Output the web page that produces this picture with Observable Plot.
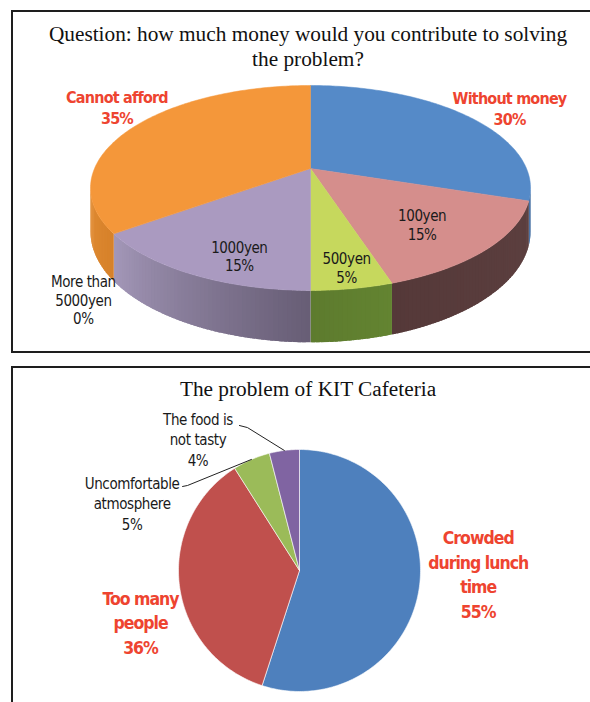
<!DOCTYPE html>
<html><head><meta charset="utf-8">
<script src="https://cdn.jsdelivr.net/npm/d3@7"></script>
<script src="https://cdn.jsdelivr.net/npm/@observablehq/plot@0.6"></script>
<style>
html,body{margin:0;padding:0;background:#fff;}
#wrap{position:relative;width:590px;height:702px;overflow:hidden;background:#fff;}
.box{position:absolute;border:2px solid #1e1e1e;box-sizing:border-box;}
.title{position:absolute;left:12px;width:592px;text-align:center;font-family:'Liberation Serif','Times New Roman',serif;font-size:21.3px;line-height:24.5px;color:#111;}
#chart{position:absolute;left:0;top:0;}
</style></head><body>
<div id="wrap">
  <div class="box" style="left:11px;top:10px;width:600px;height:343px"></div>
  <div class="box" style="left:11px;top:366px;width:600px;height:400px"></div>
  <div id="chart"></div>
  <div class="title" style="top:22px">Question: how much money would you contribute to solving<br>the problem?</div>
  <div class="title" style="top:377px">The problem of KIT Cafeteria</div>
</div>
<script>
// ---------- DATA ----------
const moneyCategories = ["Without money", "100yen", "500yen", "1000yen", "More than 5000yen", "Cannot afford"];
const moneyLabelNames = ["Without money", "100yen", "500yen", "1000yen", "More than\n5000yen", "Cannot afford"];
const moneyValues = [30, 15, 5, 15, 0, 35];

const cafeCategories = ["Crowded during lunch time", "Too many people", "Uncomfortable atmosphere", "The food is not tasty"];
const cafeLabelNames = ["Crowded\nduring lunch\ntime", "Too many\npeople", "Uncomfortable\natmosphere", "The food is\nnot tasty"];
const cafeValues = [55, 36, 5, 4];

// ---------- STYLE ----------
const moneyTop = ["#558ac8", "#d58e8c", "#c6d85d", "#aa9ac0", "#aa9ac0", "#f4973a"];
const moneySide = [["#3f6aa0", "#3f6aa0"], ["#5d4040", "#553939"], ["#638431", "#5d7b2e"], ["#675d75", "#a498b9"], ["#a498b9", "#a498b9"], ["#d6812a", "#e28d35"]];
const moneyLabelRed = [true, false, false, false, false, true];
const moneyPlace = [{da: 2.2, r: 1.256}, {da: 2.5, r: 0.691}, {da: -0.5, r: 0.851}, {da: -6.6, r: 0.809}, {da: -15.6, r: 1.352}, {da: 8, r: 1.242}];

const cafeColors = ["#4e80bd", "#c0504d", "#9bbb59", "#8064a2"];
const cafeLabelRed = [true, true, false, false];
const cafePlace = [{da: -8.2, r: 1.477}, {da: -10.6, r: 1.380}, {da: -44.6, r: 1.492}, {da: -30.4, r: 1.375}];
const cafeLeader = [null, null, [{da: 0, r: 1.0}, {da: -29.4, r: 1.162}, {da: -30.9, r: 1.19}], [{da: 0, r: 1.0}, {da: -12.8, r: 1.257}, {da: -15.3, r: 1.297}]];

const RED = "#ee4430", BLACK = "#1a1a1a";
const LABEL_FONT = "'DejaVu Sans Condensed','DejaVu Sans',sans-serif";
const SPACING = {"16": "-0.8px", "17.5": "-1px", "15": "-0.4px"};

// ---------- GEOMETRY ----------
const P3 = {cx: 310, cy: 168, A: 216, B: 98.8, k: 0.19, depth: 42};
const rad = d => d * Math.PI / 180;
function proj(thetaDeg, r) {
  const t = rad(thetaDeg), X = r * Math.sin(t), Z = r * Math.cos(t);
  const s = 1 / (1 + P3.k * Z);
  return [P3.cx + P3.A * X * s, P3.cy - P3.B * Z * s, s];
}
// silhouette tangent angles of the perspective ellipse (side visible between them)
const SIL0 = Math.acos(-P3.k) * 180 / Math.PI, SIL1 = 360 - SIL0;
const P2 = {cx: 299, cy: 570, r: 121};
function flat(thetaDeg, r) {
  const t = rad(thetaDeg);
  return [P2.cx + P2.r * r * Math.sin(t), P2.cy - P2.r * r * Math.cos(t)];
}
function angles(values) {
  const tot = d3.sum(values); let acc = 0;
  return values.map(v => { const a0 = acc / tot * 360; acc += v; return [a0, acc / tot * 360]; });
}

// top 3D pie
const mAng = angles(moneyValues);
const sideRows = [], topRows = [];
mAng.forEach(([a0, a1], i) => {
  if (a1 - a0 <= 0) return;
  const s0 = Math.max(a0, SIL0), s1 = Math.min(a1, SIL1);
  if (s1 > s0) {
    const n = Math.max(1, Math.ceil(s1 - s0));
    const ci = d3.interpolateRgb(moneySide[i][0], moneySide[i][1]);
    for (let j = 0; j < n; j++) {
      const t0 = s0 + (s1 - s0) * j / n, t1 = Math.min(s1, s0 + (s1 - s0) * (j + 1) / n + 0.8);
      const p0 = proj(t0, 1), p1 = proj(t1, 1);
      const col = ci((j + 0.5) / n);
      const id = `s${i}-${j}`;
      [[p0[0], p0[1]], [p1[0], p1[1]], [p1[0], p1[1] + P3.depth * p1[2]], [p0[0], p0[1] + P3.depth * p0[2]], [p0[0], p0[1]]]
        .forEach(([x, y]) => sideRows.push({id, x, y, color: col}));
    }
  }
  const id = `t${i}`;
  topRows.push({id, x: P3.cx, y: P3.cy, color: moneyTop[i]});
  const n = Math.max(2, Math.ceil(a1 - a0));
  for (let j = 0; j <= n; j++) {
    const p = proj(a0 + (a1 - a0) * j / n, 1);
    topRows.push({id, x: p[0], y: p[1], color: moneyTop[i]});
  }
  topRows.push({id, x: P3.cx, y: P3.cy, color: moneyTop[i]});
});
const moneyLabels = moneyCategories.map((c, i) => {
  const [a0, a1] = mAng[i];
  const p = proj((a0 + a1) / 2 + moneyPlace[i].da, moneyPlace[i].r);
  return {name: c, text: moneyLabelNames[i] + "\n" + moneyValues[i] + "%", x: p[0], y: p[1], red: moneyLabelRed[i], i};
});

// bottom flat pie
const cAng = angles(cafeValues);
const flatRows = [];
cAng.forEach(([a0, a1], i) => {
  const id = `f${i}`;
  flatRows.push({id, x: P2.cx, y: P2.cy, color: cafeColors[i]});
  const n = Math.max(2, Math.ceil(a1 - a0));
  for (let j = 0; j <= n; j++) {
    const p = flat(a0 + (a1 - a0) * j / n, 1);
    flatRows.push({id, x: p[0], y: p[1], color: cafeColors[i]});
  }
  flatRows.push({id, x: P2.cx, y: P2.cy, color: cafeColors[i]});
});
const cafeLabels = cafeCategories.map((c, i) => {
  const [a0, a1] = cAng[i];
  const p = flat((a0 + a1) / 2 + cafePlace[i].da, cafePlace[i].r);
  return {name: c, text: cafeLabelNames[i] + "\n" + cafeValues[i] + "%", x: p[0], y: p[1], red: cafeLabelRed[i]};
});
const leaderRows = [];
cafeLeader.forEach((L, i) => {
  if (!L) return;
  const mid = (cAng[i][0] + cAng[i][1]) / 2;
  L.forEach(pt => { const p = flat(mid + pt.da, pt.r); leaderRows.push({id: i, x: p[0], y: p[1]}); });
});

const chart = Plot.plot({
  width: 590, height: 702, margin: 0,
  style: {background: "transparent"},
  x: {domain: [0, 590], range: [0, 590], axis: null},
  y: {domain: [0, 702], range: [0, 702], axis: null},
  color: {type: "identity"},
  marks: [
    Plot.line(sideRows, {x: "x", y: "y", z: "id", fill: "color", stroke: null, curve: "linear"}),
    Plot.line(topRows, {x: "x", y: "y", z: "id", fill: "color", stroke: "color", strokeWidth: 0.5, curve: "linear"}),
    Plot.line(flatRows, {x: "x", y: "y", z: "id", fill: "color", stroke: "#ffffff", strokeWidth: 0.6, curve: "linear"}),
    Plot.line(leaderRows, {x: "x", y: "y", z: "id", stroke: "#222", strokeWidth: 1, curve: "linear"}),
    Plot.text(moneyLabels.filter(d => d.red), {x: "x", y: "y", text: "text", fill: RED, fontSize: 16, fontWeight: "bold", fontFamily: LABEL_FONT, lineHeight: 1.34}),
    Plot.text(moneyLabels.filter(d => !d.red), {x: "x", y: "y", text: "text", fill: BLACK, fontSize: 15, fontFamily: LABEL_FONT, lineHeight: 1.25}),
    Plot.text(cafeLabels.filter(d => d.red), {x: "x", y: "y", text: "text", fill: RED, fontSize: 17.5, fontWeight: "bold", fontFamily: LABEL_FONT, lineHeight: 1.4}),
    Plot.text(cafeLabels.filter(d => !d.red), {x: "x", y: "y", text: "text", fill: BLACK, fontSize: 15, fontFamily: LABEL_FONT, lineHeight: 1.38})
  ]
});
chart.querySelectorAll("text").forEach(t => {
  let el = t, fs = null;
  while (el && el !== chart && fs == null) { fs = el.getAttribute("font-size"); el = el.parentNode; }
  if (fs != null) {
    const key = String(parseFloat(fs));
    if (SPACING[key]) t.style.letterSpacing = SPACING[key];
  }
});
document.getElementById("chart").appendChild(chart);
</script>
</body></html>
